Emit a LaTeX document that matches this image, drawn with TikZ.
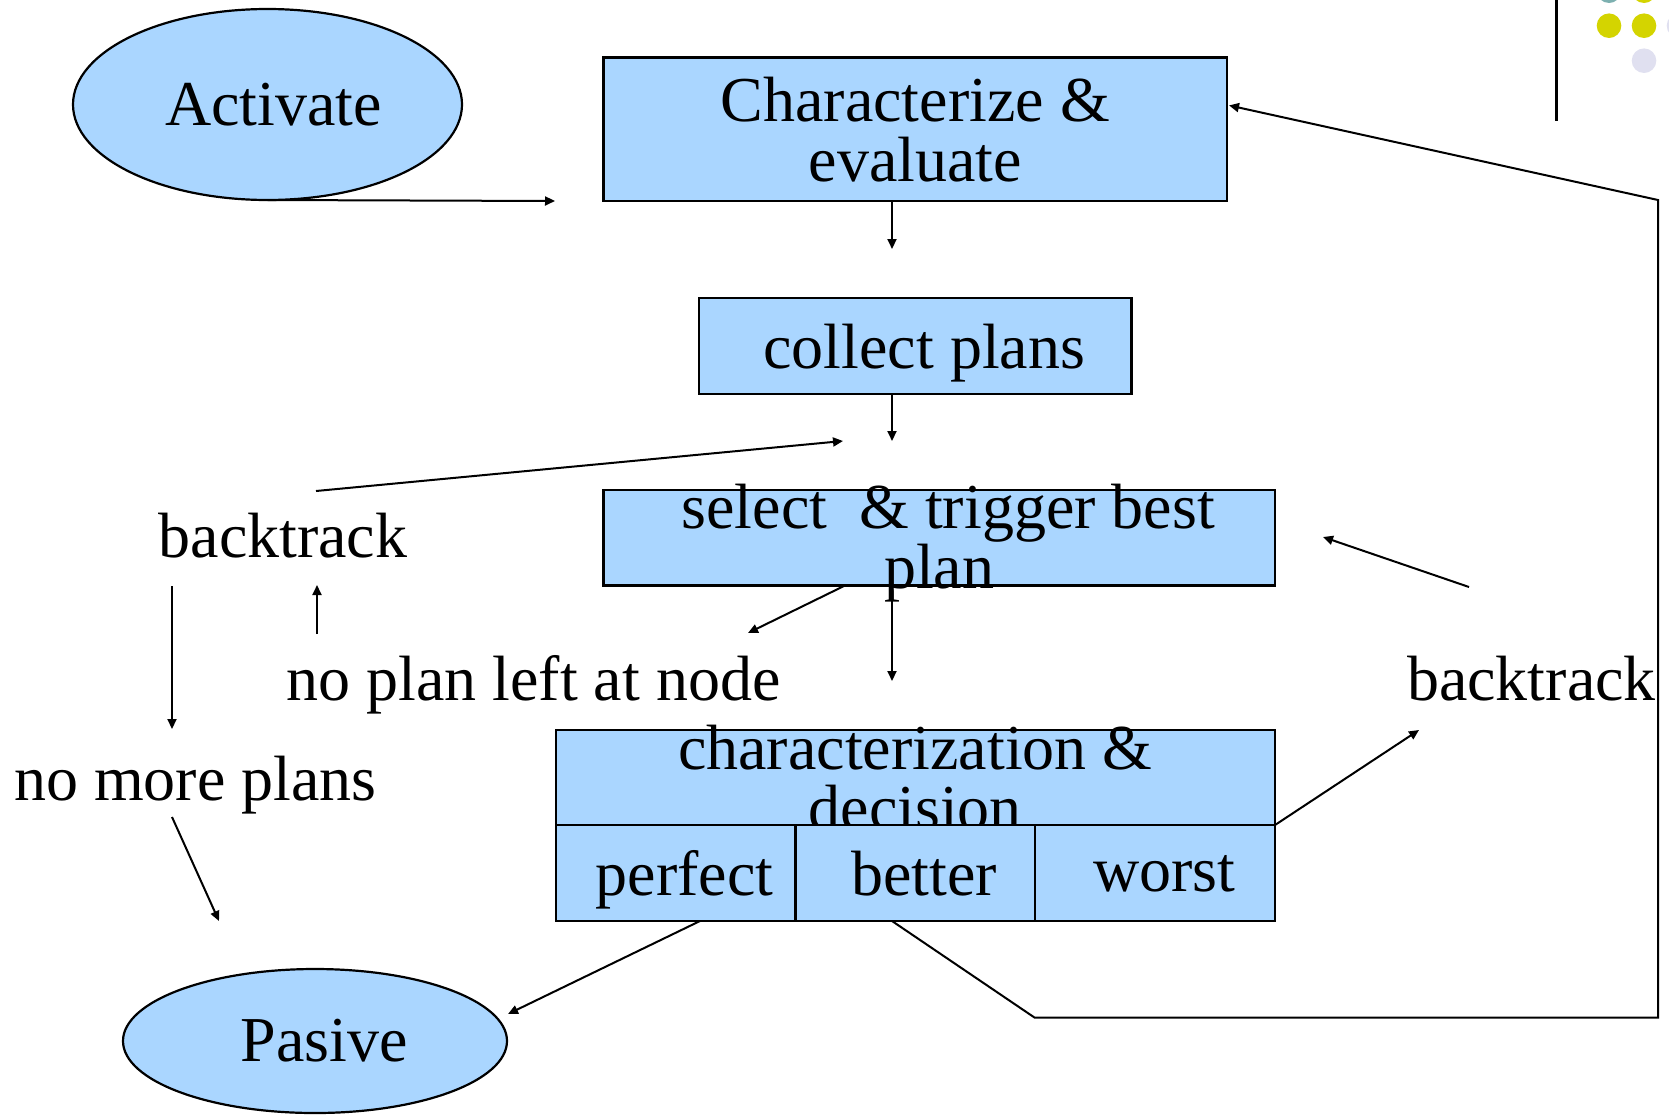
\documentclass[tikz,border=0pt]{standalone}
\usepackage{fontspec}
\setmainfont{Liberation Serif}
\usetikzlibrary{calc, positioning}
\usetikzlibrary{arrows.meta}
\usetikzlibrary{shapes.geometric}

\definecolor{boxblue}{RGB}{170,214,255}
\definecolor{dotteal}{RGB}{125,176,176}
\definecolor{dotyellow}{RGB}{212,212,0}
\definecolor{dotlilac}{RGB}{224,224,240}
\newcommand{\slidefont}{\fontsize{32}{30}\selectfont}

\tikzset{
  box/.style={draw, fill=boxblue, line width=1.1pt, inner sep=0pt, outer sep=0pt},
  blob/.style={ellipse, draw, fill=boxblue, line width=1.1pt, inner sep=0pt, outer sep=0pt},
  lbl/.style={font=\slidefont, align=center, inner sep=0pt},
  lead/.style={execute at begin node={\hspace*{#1}}},
  lead/.default=9pt,
  cell/.style={box, minimum width=119.9pt, minimum height=48pt, text depth=0pt, lead},
  arr/.style={-{Triangle[length=5pt, width=4.5pt]}, line width=1pt},
}

\begin{document}
\begin{tikzpicture}[x=0.5pt, y=-0.5pt, font=\slidefont]
\def\xCol{892}
\def\xLoop{1658}
\def\yLoop{1017.6}
\useasboundingbox (0,0) rectangle (1669,1114);

\node[blob, minimum width=194.5pt, minimum height=95.5pt, lead=6pt] (Act) at (267.5,104.5) {Activate};
\node[box, minimum width=311.75pt, minimum height=71.75pt, align=center] (Char) at (915.25,129.25) {Characterize \&\\evaluate};
\node[box, minimum width=216.25pt, minimum height=48pt, text depth=0pt, lead] (Coll) at (915.25,346) {collect plans};
\node[box, minimum width=335.75pt, minimum height=47.75pt] (Sel) at (939.25,537.75) {};
\node[lbl, yshift=-2.5pt] (SelTxt) at (Sel) {\hspace*{9pt}select\ \ \& trigger best\\plan};

\node[box, minimum width=359.7pt, minimum height=47.5pt] (Dec) at (915.3,777.5) {};
\node[lbl] (DecTxt) at (Dec) {characterization \&\\decision};
\node[cell, anchor=north west] (Perf) at (Dec.south west) {perfect};
\node[cell, right=0pt of Perf] (Bett) {better};
\node[cell, right=0pt of Bett] (Worst) {worst};

\node[blob, minimum width=192pt, minimum height=72pt, lead] (Pas) at (315,1041) {Pasive};

\node[lbl, anchor=base] (BackL) at (283,557) {backtrack};
\node[lbl, anchor=base] (NoLeft) at (533.5,700) {no plan left at node};
\node[lbl, anchor=base] (BackR) at (1531.5,700) {backtrack};
\node[lbl, anchor=base] (NoMore) at (195.5,800) {no more plans};

\coordinate (ColX) at (\xCol,0);
\coordinate (ActEnd) at (555,201);
\coordinate (CharOut) at (\xCol,249);
\coordinate (CollOut) at (\xCol,441);
\coordinate (SelOut) at (\xCol,681);
\coordinate (SelFoot) at (845,585.5);
\coordinate (SelLeft) at (748,633);
\coordinate (BackLTop) at (316,491);
\coordinate (BackLEnd) at (843,441);
\coordinate (BackLDown) at (172,586);
\coordinate (NoMoreIn) at (172,729);
\coordinate (NoLeftUp) at (317,634);
\coordinate (BackLIn) at (317,585);
\coordinate (NoMoreOut) at (172,817);
\coordinate (PasTop) at (219,921);
\coordinate (BackRTop) at (1469,587);
\coordinate (BackREnd) at (1323,537);
\coordinate (BackRIn) at (1419,730);
\coordinate (PerfFoot) at (700,921);
\coordinate (PasIn) at (508,1014);
\coordinate (LoopA) at (1034.6,\yLoop);
\coordinate (LoopB) at (\xLoop,\yLoop);
\coordinate (LoopC) at (\xLoop,200);
\coordinate (CharIn) at (1229,105.4);

\draw[arr] (Act.south) -- (ActEnd);
\draw[arr] (Char.south -| ColX) -- (CharOut);
\draw[arr] (Coll.south -| ColX) -- (CollOut);
\draw[arr] (BackLTop) -- (BackLEnd);
\draw[arr] (SelFoot) -- (SelLeft);
\draw[arr] (Sel.south -| ColX) -- (SelOut);
\draw[arr] (BackRTop) -- (BackREnd);
\draw[arr] (Dec.south east) -- (BackRIn);
\draw[arr] (BackLDown) -- (NoMoreIn);
\draw[arr] (NoLeftUp) -- (BackLIn);
\draw[arr] (NoMoreOut) -- (PasTop);
\draw[arr] (PerfFoot) -- (PasIn);
\draw[arr] (Bett.south -| ColX) -- (LoopA) -- (LoopB) -- (LoopC) -- (CharIn);

\draw[line width=1.5pt] (1556,0) -- (1556,121);
\foreach \cx/\cy/\cc in {1609/-9.3/dotteal, 1644/-9.3/dotyellow, 1609/25.7/dotyellow,
    1644/25.7/dotyellow, 1679/25.7/dotlilac, 1644/60.7/dotlilac}
  \fill[\cc] (\cx,\cy) circle (6.15pt);
\end{tikzpicture}
\end{document}
